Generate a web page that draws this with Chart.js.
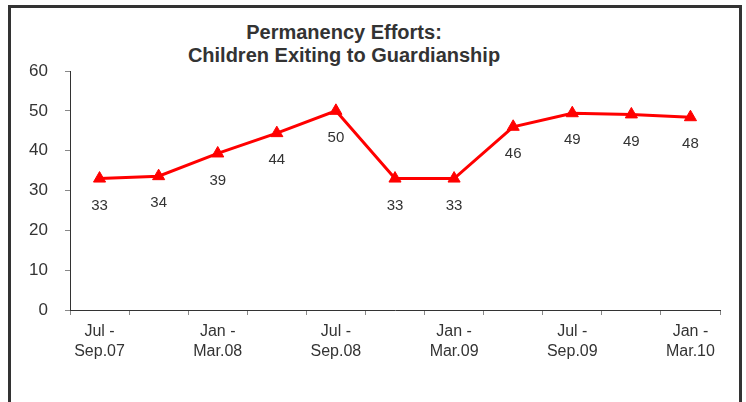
<!DOCTYPE html>
<html>
<head>
<meta charset="utf-8">
<script src="https://cdn.jsdelivr.net/npm/chart.js@4/dist/chart.umd.min.js"></script>
<style>
  body { margin: 0; background: #fff; width: 746px; height: 402px; overflow: hidden; position: relative; }
  .frame { position: absolute; left: 8px; top: 5px; width: 728px; height: 420px; border: 3px solid #333; }
  .title { position: absolute; left: 0; top: 21px; width: 688px; text-align: center;
           font: bold 20px "Liberation Sans", Arial, sans-serif; line-height: 23px; color: #333; }
  canvas { position: absolute; left: 0; top: 0; }
</style>
</head>
<body>
<div class="frame"></div>
<div class="title">Permanency Efforts:<br>Children Exiting to Guardianship</div>
<canvas id="chart" width="746" height="402"></canvas>
<script>
// Quarters shown on the x axis (only every other one is labelled)
const quarters = [
  ['Jul -', 'Sep.07'], ['Oct -', 'Dec.07'], ['Jan -', 'Mar.08'], ['Apr -', 'Jun.08'],
  ['Jul -', 'Sep.08'], ['Oct -', 'Dec.08'], ['Jan -', 'Mar.09'], ['Apr -', 'Jun.09'],
  ['Jul -', 'Sep.09'], ['Oct -', 'Dec.09'], ['Jan -', 'Mar.10']
];
const guardianship = [33.0, 33.6, 39.3, 44.4, 50.0, 33.0, 33.0, 46.0, 49.4, 49.1, 48.4];
const yTicks = [0, 10, 20, 30, 40, 50, 60];

const FONT = '"Liberation Sans", Arial, sans-serif';

// Value labels under each point
const pointLabels = {
  id: 'pointLabels',
  afterDatasetsDraw(chart) {
    const ctx = chart.ctx;
    const meta = chart.getDatasetMeta(0);
    ctx.save();
    ctx.font = '15px ' + FONT;
    ctx.fillStyle = '#333';
    ctx.textAlign = 'center';
    ctx.textBaseline = 'middle';
    meta.data.forEach((pt, i) => {
      ctx.fillText(Math.round(guardianship[i]).toString(), pt.x, pt.y + 27);
    });
    ctx.restore();
  }
};

new Chart(document.getElementById('chart'), {
  type: 'line',
  data: {
    labels: quarters,
    datasets: [{
      data: guardianship,
      borderColor: '#ff0000',
      backgroundColor: '#ff0000',
      borderWidth: 3,
      pointStyle: 'triangle',
      pointRadius: 7,
      pointBorderWidth: 1,
      tension: 0
    }]
  },
  options: {
    responsive: false,
    animation: false,
    layout: { padding: { top: 71, right: 26, left: 0, bottom: 0 } },
    plugins: {
      legend: { display: false },
      tooltip: { enabled: false }
    },
    scales: {
      x: {
        offset: true,
        afterFit: s => { s.height = 92; },
        border: { display: true, color: '#333', width: 1 },
        grid: { offset: true, drawOnChartArea: false, drawTicks: true, tickLength: 5, color: '#888' },
        ticks: {
          autoSkip: false,
          maxRotation: 0,
          padding: 7,
          color: '#333',
          font: { family: FONT, size: 16, lineHeight: 1.25 },
          callback: function (v, i) { return i % 2 === 0 ? this.getLabelForValue(v) : ''; }
        }
      },
      y: {
        min: yTicks[0],
        max: yTicks[yTicks.length - 1],
        afterFit: s => { s.width = 70; },
        afterBuildTicks: s => { s.ticks = yTicks.map(v => ({ value: v })); },
        border: { display: true, color: '#333', width: 1 },
        grid: { drawOnChartArea: false, drawTicks: true, tickLength: 5, color: '#888' },
        ticks: {
          padding: 17,
          color: '#333',
          font: { family: FONT, size: 17 }
        }
      }
    }
  },
  plugins: [pointLabels]
});
</script>
</body>
</html>
